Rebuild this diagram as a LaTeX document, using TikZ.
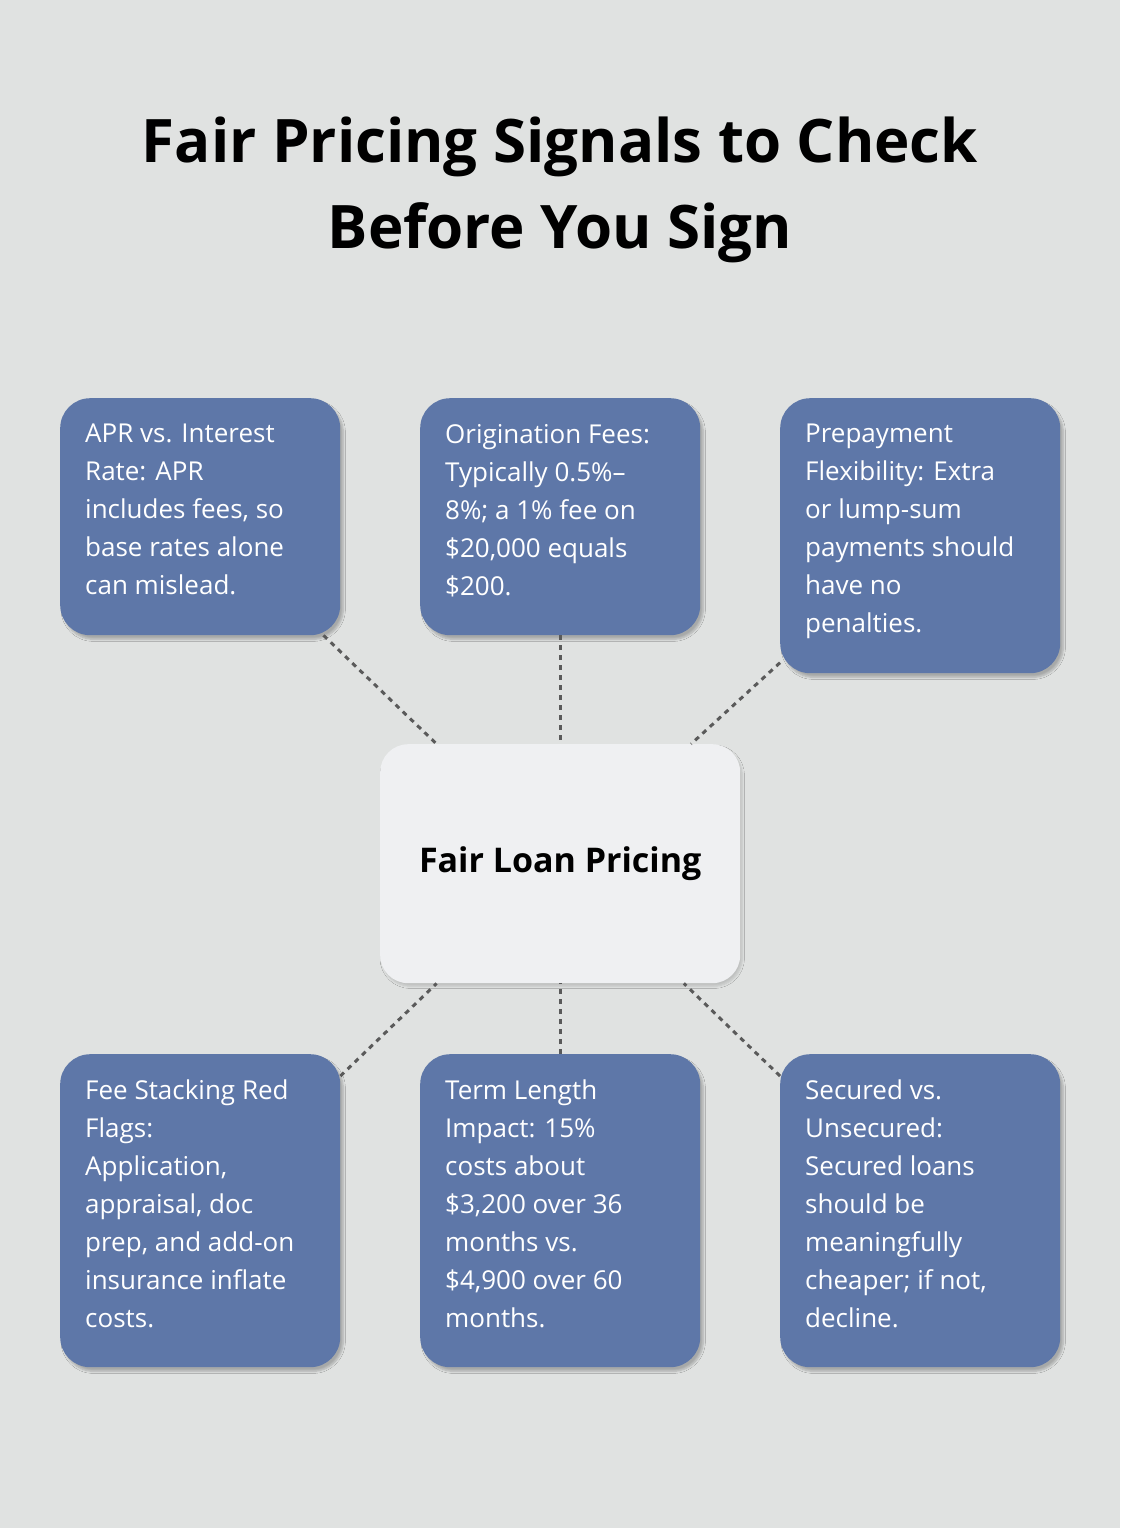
\documentclass[tikz,border=0pt]{standalone}
\usepackage{fontspec}
\setmainfont{Open Sans}
\usetikzlibrary{shadows.blur}
\definecolor{bg}{HTML}{E0E2E1}
\definecolor{boxc}{HTML}{5E77A8}
\definecolor{ctrc}{HTML}{EFF0F2}
\definecolor{linec}{HTML}{5A5A5A}
\begin{document}
\begin{tikzpicture}[x=1pt,y=-1pt,
  box/.style={draw=none,fill=boxc,rounded corners=30pt,minimum width=280pt,anchor=north west,inner sep=0pt,blur shadow={shadow blur steps=6,shadow xshift=3pt,shadow yshift=-4pt,shadow opacity=25}},
  txt/.style={anchor=north west,inner sep=0pt,text=white,align=left,font=\fontsize{26}{38}\selectfont},
  conn/.style={draw=linec,line width=3pt,dash pattern=on 5pt off 5pt}]
\fill[bg] (0,0) rectangle (1120,1528);
\useasboundingbox (0,0) rectangle (1120,1528);
\node[font=\fontsize{60}{86}\selectfont\bfseries,align=center,anchor=center] (title) at (560,190) {Fair Pricing Signals to Check\\Before You Sign};
\node[box,minimum height=237pt] (b1) at (60,398) {};
\node[box,minimum height=237pt] (b2) at (420,398) {};
\node[box,minimum height=275pt] (b3) at (780,398) {};
\node[box,minimum height=313pt] (b4) at (60,1054) {};
\node[box,minimum height=313pt] (b5) at (420,1054) {};
\node[box,minimum height=313pt] (b6) at (780,1054) {};
\node[fill=ctrc,rounded corners=28pt,minimum width=360pt,minimum height=239pt,anchor=north west,inner sep=0pt,blur shadow={shadow blur steps=6,shadow xshift=2pt,shadow yshift=-3pt,shadow opacity=15}] (ctr) at (380,744) {};
\node[font=\fontsize{34}{40}\selectfont\bfseries] (ctrt) at (ctr.center) {Fair Loan Pricing};
\node[txt] (t1) at (85,424) {APR vs. Interest\\Rate: APR\\includes fees, so\\base rates alone\\can mislead.};
\node[txt] (t2) at (445,424) {Origination Fees:\\Typically 0.5\%–\\8\%; a 1\% fee on\\\$20,000 equals\\\$200.};
\node[txt] (t3) at (805,424) {Prepayment\\Flexibility: Extra\\or lump-sum\\payments should\\have no\\penalties.};
\node[txt] (t4) at (85,1080) {Fee Stacking Red\\Flags:\\Application,\\appraisal, doc\\prep, and add-on\\insurance inflate\\costs.};
\node[txt] (t5) at (445,1080) {Term Length\\Impact: 15\%\\costs about\\\$3,200 over 36\\months vs.\\\$4,900 over 60\\months.};
\node[txt] (t6) at (805,1080) {Secured vs.\\Unsecured:\\Secured loans\\should be\\meaningfully\\cheaper; if not,\\decline.};
\draw[conn] (b1) -- (ctr);
\draw[conn] (b2) -- (ctr);
\draw[conn] (b3) -- (ctr);
\draw[conn] (b4) -- (ctr);
\draw[conn] (b5) -- (ctr);
\draw[conn] (b6) -- (ctr);
\end{tikzpicture}
\end{document}
